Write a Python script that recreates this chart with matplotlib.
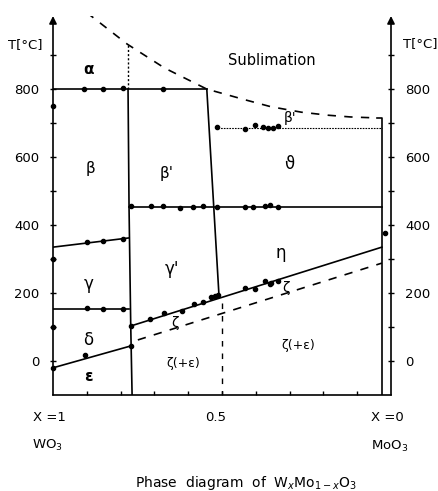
import matplotlib
matplotlib.use("Agg")
import matplotlib.pyplot as plt
import numpy as np

# composition X (1 = WO3 at left, 0 = MoO3 at right), temperature in degC
sub_x = [0.90, 0.78, 0.67, 0.545, 0.43, 0.355, 0.265, 0.185, 0.12, 0.04]
sub_T = [1025, 932, 862, 800, 768, 748, 732, 723, 718, 715]

line800_x = [1.0, 0.545]
line800_T = [800, 800]

alpha_x = [0.778, 0.778]
alpha_T = [800, 932]

left_wall_x = [0.778, 0.775, 0.770, 0.766]
left_wall_T = [800, 450, 103, -100]

mid_wall_x = [0.545, 0.509]
mid_wall_T = [800, 194]

theta_x = [0.52, 0.027]
theta_T = [686, 686]

line450_x = [0.775, 0.027]
line450_T = [453, 453]

beta_gamma_x = [1.0, 0.776]
beta_gamma_T = [335, 362]

gamma_delta_x = [1.0, 0.774]
gamma_delta_T = [153, 153]

delta_eps_x = [1.0, 0.771]
delta_eps_T = [-20, 44]

eta_low_x = [0.770, 0.027]
eta_low_T = [103, 335]

zeta_dash_x = [0.749, 0.027]
zeta_dash_T = [62, 288]

half_x = [0.5, 0.5]
half_T = [170, -100]

moo3_x = [0.04, 0.027, 0.027]
moo3_T = [715, 715, -100]

# measured points
pts_x = ([0.908, 0.852, 0.793, 0.675] +
         [0.899, 0.852, 0.793] +
         [0.769, 0.710, 0.675, 0.624, 0.586, 0.556, 0.515, 0.432, 0.408, 0.373, 0.358, 0.334] +
         [0.515, 0.432, 0.402, 0.379, 0.364, 0.349, 0.334] +
         [0.899, 0.852, 0.793] +
         [0.905] +
         [0.713, 0.672, 0.618, 0.583, 0.556, 0.533, 0.521, 0.512, 0.432, 0.402, 0.373, 0.358, 0.355, 0.334] +
         [1.0, 1.0, 1.0, 1.0, 0.77, 0.77, 0.018])
pts_T = ([800, 801, 802, 801] +
         [351, 354, 359] +
         [455, 455, 457, 450, 454, 455, 452, 452, 452, 456, 458, 452] +
         [688, 682, 694, 688, 685, 685, 691] +
         [157, 154, 154] +
         [18] +
         [124, 141, 147, 168, 174, 188, 191, 194, 215, 212, 235, 226, 229, 235] +
         [750, 300, 100, -20, 44, 103, 376])

yticks_major = [0, 200, 400, 600, 800]
yticks_minor = [100, 300, 500, 700, 900]
xticks_minor = [0.9, 0.8, 0.7, 0.6, 0.5, 0.4, 0.3, 0.2, 0.1]

fig = plt.figure(figsize=(4.38, 4.91), dpi=100)
ax = fig.add_axes([53/438, 96/491, 338/438, 379/491])
ax.set_xlim(1, 0)
ax.set_ylim(-100, 1015)

lw = 1.2
ax.plot(sub_x, sub_T, color='k', lw=lw, dashes=(5, 5))
ax.plot(line800_x, line800_T, color='k', lw=lw)
ax.plot(alpha_x, alpha_T, color='k', lw=1.0, dashes=(1.5, 1.5))
ax.plot(left_wall_x, left_wall_T, color='k', lw=lw)
ax.plot(mid_wall_x, mid_wall_T, color='k', lw=lw)
ax.plot(theta_x, theta_T, color='k', lw=0.8, dashes=(1.5, 1))
ax.plot(line450_x, line450_T, color='k', lw=lw)
ax.plot(beta_gamma_x, beta_gamma_T, color='k', lw=lw)
ax.plot(gamma_delta_x, gamma_delta_T, color='k', lw=lw)
ax.plot(delta_eps_x, delta_eps_T, color='k', lw=lw)
ax.plot(eta_low_x, eta_low_T, color='k', lw=lw)
ax.plot(zeta_dash_x, zeta_dash_T, color='k', lw=lw, dashes=(5, 5))
ax.plot(half_x, half_T, color='k', lw=1.0, dashes=(4, 5))
ax.plot(moo3_x, moo3_T, color='k', lw=lw)
ax.plot(pts_x, pts_T, 'o', color='k', ms=3, clip_on=False)

# axes: bottom line, two arrows as T axes
for sp in ['top', 'left', 'right']:
    ax.spines[sp].set_visible(False)
ax.spines['bottom'].set_linewidth(lw)
for xa in [1, 0]:
    ax.annotate('', xy=(xa, 1015), xytext=(xa, -100), annotation_clip=False,
                arrowprops=dict(arrowstyle='-|>', color='k', lw=lw,
                                mutation_scale=11, shrinkA=0, shrinkB=0))

ax.set_yticks(yticks_major)
ax.set_yticks(yticks_minor, minor=True)
ax.set_yticklabels([str(v) for v in yticks_major])
ax.tick_params(axis='y', which='both', left=True, right=True, labelleft=True,
               labelright=True, direction='inout', length=4, width=1, labelsize=9.5)
ax.tick_params(axis='y', which='major', pad=8)
ax.set_xticks([])
ax.set_xticks(xticks_minor, minor=True)
ax.tick_params(axis='x', which='minor', direction='in', length=3, width=1)

ax.text(1.083, 932, 'T[°C]', ha='center', va='center', fontsize=9.5)
ax.text(-0.086, 935, 'T[°C]', ha='center', va='center', fontsize=9.5)

ax.text(1.01, -165, 'X =1', ha='center', va='center', fontsize=9.5)
ax.text(0.52, -165, '0.5', ha='center', va='center', fontsize=9.5)
ax.text(0.012, -165, 'X =0', ha='center', va='center', fontsize=9.5)
ax.text(1.016, -248, 'WO$_3$', ha='center', va='center', fontsize=9.5)
ax.text(0.003, -250, 'MoO$_3$', ha='center', va='center', fontsize=9.5)
fig.text(246/438, 1 - 483/491, 'Phase  diagram  of  W$_x$Mo$_{1-x}$O$_3$',
         ha='center', va='center', fontsize=10)

labels = [
    (0.896, 858, 'α', 11, 'bold'),
    (0.352, 885, 'Sublimation', 10.5, 'normal'),
    (0.890, 565, 'β', 11, 'normal'),
    (0.663, 553, "β'", 11, 'normal'),
    (0.300, 580, 'ϑ', 12, 'normal'),
    (0.300, 716, "β'", 10, 'normal'),
    (0.896, 228, 'γ', 12, 'normal'),
    (0.648, 272, "γ'", 12, 'normal'),
    (0.325, 318, 'η', 12, 'normal'),
    (0.896, 62, 'δ', 12, 'normal'),
    (0.896, -47, 'ε', 11, 'bold'),
    (0.639, 113, 'ζ', 10, 'normal'),
    (0.311, 216, 'ζ', 10, 'normal'),
    (0.615, -6, 'ζ(+ε)', 9, 'normal'),
    (0.275, 47, 'ζ(+ε)', 9, 'normal'),
]
for lx, ly, s, fs, fw in labels:
    ax.text(lx, ly, s, ha='center', va='center', fontsize=fs, fontweight=fw)

fig.savefig('out.png', dpi=100)
